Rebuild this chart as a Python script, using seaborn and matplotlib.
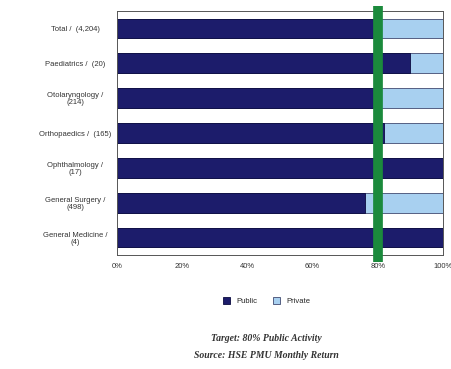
import matplotlib
matplotlib.use("Agg")
import matplotlib.pyplot as plt
import seaborn as sns
import pandas as pd
from matplotlib.patches import Patch

specialties = [
    "Total /  (4,204)",
    "Paediatrics /  (20)",
    "Otolaryngology /\n(214)",
    "Orthopaedics /  (165)",
    "Ophthalmology /\n(17)",
    "General Surgery /\n(498)",
    "General Medicine /\n(4)",
]
public_pct = [79, 90, 79, 82, 100, 76, 100]
private_pct = [21, 10, 21, 18, 0, 24, 0]
target_pct = 80
x_ticks = [0, 20, 40, 60, 80, 100]

PUBLIC = "#1c1c6b"
PRIVATE = "#a8d0f0"
TARGET = "#1b8a3c"

df = pd.DataFrame({
    "specialty": specialties,
    "public": public_pct,
    "total": [p + q for p, q in zip(public_pct, private_pct)],
})

sns.set_style("white")
plt.rcParams["font.family"] = ["Liberation Sans", "DejaVu Sans"]

fig = plt.figure(figsize=(4.52, 3.69), dpi=100)
ax = fig.add_axes([0.259, 0.309, 0.721, 0.661])

sns.barplot(data=df, y="specialty", x="total", orient="h", color=PRIVATE,
            width=0.57, edgecolor="#404a70", linewidth=0.6, ax=ax, saturation=1)
sns.barplot(data=df, y="specialty", x="public", orient="h", color=PUBLIC,
            width=0.57, edgecolor="#0a0a40", linewidth=0.6, ax=ax, saturation=1)

target_line = ax.axvline(target_pct, ymin=-0.03, ymax=1.02, color=TARGET,
                         linewidth=7, clip_on=False, zorder=5)
target_line.set_solid_capstyle("butt")

ax.set_xlim(0, 100)
ax.set_ylim(len(specialties) - 0.5, -0.5)
ax.set_xticks(x_ticks)
ax.set_xticklabels([f"{t}%" for t in x_ticks], fontsize=5.5, color="#333333")
ax.set_yticklabels(specialties, fontsize=5.5, color="#333333", ha="center",
                   linespacing=1.0)
ax.tick_params(axis="y", length=0, pad=30)
ax.tick_params(axis="x", length=3, width=0.6, color="#666666", pad=3, direction="out")
ax.set_xlabel("")
ax.set_ylabel("")
for s in ax.spines.values():
    s.set_visible(True)
    s.set_color("#555555")
    s.set_linewidth(0.7)

handles = [Patch(facecolor=PUBLIC, edgecolor="#0a0a40", linewidth=0.6, label="Public"),
           Patch(facecolor=PRIVATE, edgecolor="#404a70", linewidth=0.6, label="Private")]
fig.legend(handles=handles, loc="center", bbox_to_anchor=(0.59, 0.185), ncol=2,
           frameon=False, fontsize=5.5, handlelength=1.0, handleheight=1.0,
           columnspacing=2.0, handletextpad=0.8)

fig.text(0.59, 0.083, "Target: 80% Public Activity", ha="center", va="center",
         fontsize=7, fontweight="bold", style="italic",
         family=["Liberation Serif", "DejaVu Serif"], color="#333333")
fig.text(0.59, 0.037, "Source: HSE PMU Monthly Return", ha="center", va="center",
         fontsize=7, fontweight="bold", style="italic",
         family=["Liberation Serif", "DejaVu Serif"], color="#333333")

fig.savefig("out.png", dpi=100)
